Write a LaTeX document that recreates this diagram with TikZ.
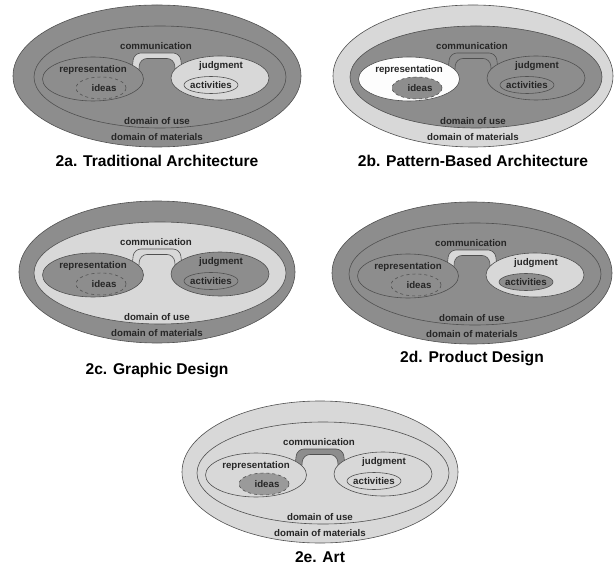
\documentclass[tikz,border=0pt]{standalone}
\usepackage{fontspec}
\setmainfont{Liberation Sans}
\usetikzlibrary{shapes.geometric}
\definecolor{dk}{HTML}{8D8D8D}
\definecolor{lt}{HTML}{D8D8D8}
\definecolor{wh}{HTML}{FDFDFD}
\definecolor{edge}{HTML}{505050}
\definecolor{idk}{HTML}{9A9A9A}
\tikzset{
  ell/.style={ellipse, draw=edge, line width=0.6pt, inner sep=0pt},
  lab/.style={font=\bfseries\fontsize{9.7}{10}\selectfont, inner sep=0pt, text=black!85},
  ttl/.style={font=\bfseries\fontsize{15.6}{17}\selectfont, inner sep=0pt},
  bridge/.style={draw=edge, line width=0.6pt, rounded corners=7pt},
}
% #1 name, #2 cx, #3 cy, #4 outer width, #5 title, #6 title y
\newcommand\panel[6]{%
\begin{scope}[shift={(#2pt,-#3pt)}, x=1pt, y=-1pt]
  \node[ell, fill=cOuter, minimum width=#4pt, minimum height=142pt] (#1-outer) at (0,0) {};
  \node[ell, fill=cInner, minimum width=252pt, minimum height=102pt] (#1-use) at (3,1) {};
  \filldraw[bridge, fill=cComm] (-26,2) -- (-23,-23) -- (23,-23) -- (26,2) -- (19,2) -- (17,-17.5) -- (-17,-17.5) -- (-19,2) -- cycle;
  \node[ell, fill=cRep, minimum width=101pt, minimum height=44pt] (#1-rep) at (-64,3) {};
  \node[ell, dashed, fill=cIdeas, minimum width=50pt, minimum height=22pt] (#1-ideas) at (-56,12) {};
  \node[ell, fill=cJudg, minimum width=98pt, minimum height=44pt] (#1-judg) at (63,2) {};
  \node[ell, fill=cAct, minimum width=54pt, minimum height=17pt] (#1-act) at (54,9) {};
  \node[lab] (#1-tcomm) at (-1,-30) {communication};
  \node[lab] (#1-trep) at (-64,-6) {representation};
  \node[lab] (#1-tideas) at (-53,12) {ideas};
  \node[lab] (#1-tjudg) at (64,-10) {judgment};
  \node[lab] (#1-tact) at (54,9) {activities};
  \node[lab] (#1-tuse) at (0,45) {domain of use};
  \node[lab] (#1-tmat) at (0,61) {domain of materials};
  \node[ttl] (#1-title) at (0,#6-#3) {#5};
\end{scope}}
\begin{document}
\begin{tikzpicture}
\useasboundingbox[fill=white] (0,0) rectangle (615pt,-569pt);
% 2a
\colorlet{cOuter}{dk}\colorlet{cInner}{dk}\colorlet{cComm}{lt}\colorlet{cRep}{dk}
\colorlet{cIdeas}{dk}\colorlet{cJudg}{lt}\colorlet{cAct}{lt}
\panel{a}{157}{76}{288}{2a. Traditional Architecture}{161}
% 2b
\colorlet{cOuter}{lt}\colorlet{cInner}{dk}\colorlet{cComm}{dk}\colorlet{cRep}{wh}
\colorlet{cIdeas}{dk}\colorlet{cJudg}{dk}\colorlet{cAct}{dk}
\panel{b}{473}{76}{280}{2b. Pattern-Based Architecture}{161}
% 2c
\colorlet{cOuter}{dk}\colorlet{cInner}{lt}\colorlet{cComm}{lt}\colorlet{cRep}{dk}
\colorlet{cIdeas}{dk}\colorlet{cJudg}{dk}\colorlet{cAct}{dk}
\panel{c}{157}{272}{276}{2c. Graphic Design}{370}
% 2d
\colorlet{cOuter}{dk}\colorlet{cInner}{dk}\colorlet{cComm}{lt}\colorlet{cRep}{dk}
\colorlet{cIdeas}{dk}\colorlet{cJudg}{lt}\colorlet{cAct}{dk}
\panel{d}{472}{273}{280}{2d. Product Design}{358}
% 2e
\colorlet{cOuter}{lt}\colorlet{cInner}{lt}\colorlet{cComm}{dk}\colorlet{cRep}{lt}
\colorlet{cIdeas}{idk}\colorlet{cJudg}{lt}\colorlet{cAct}{lt}
\panel{e}{320}{472}{276}{2e. Art}{557}
\end{tikzpicture}
\end{document}
